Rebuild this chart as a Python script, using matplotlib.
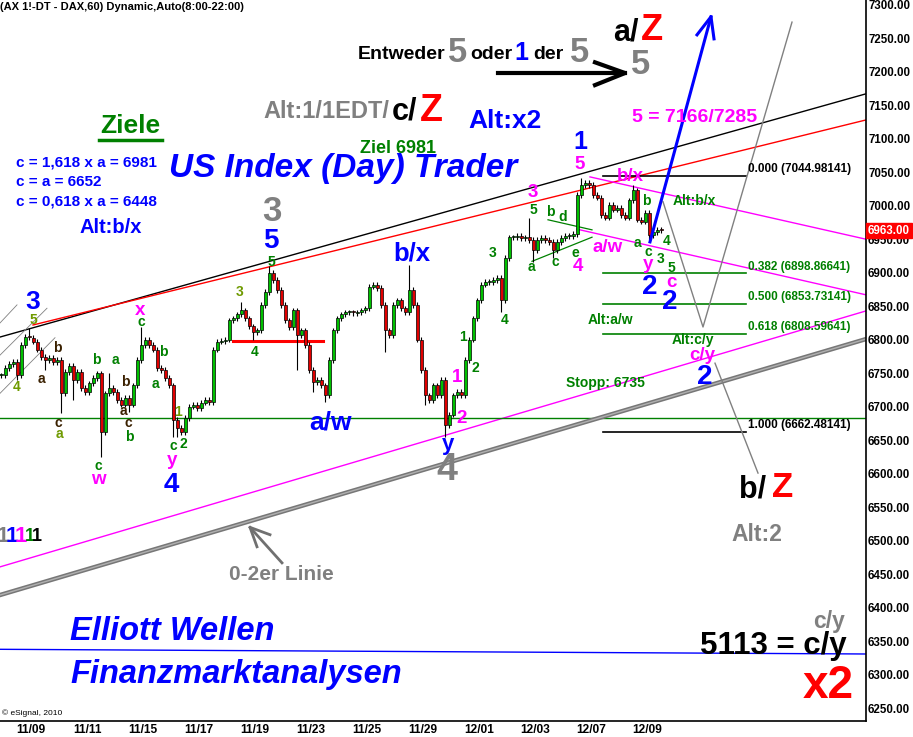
import matplotlib
matplotlib.use("Agg")
import matplotlib.pyplot as plt
import numpy as np

plt.rcParams['font.family'] = ['Liberation Sans', 'DejaVu Sans']

# DAX hourly chart, squeezed to 2h buckets (closes)
closes = [
    6747, 6758, 6764, 6767, 6747, 6792, 6804, 6803, 6797, 6785,
    6774, 6770, 6773, 6767, 6770, 6720, 6752, 6761, 6740, 6752,
    6728, 6722, 6735, 6743, 6750, 6662, 6720, 6728, 6722, 6710,
    6703, 6713, 6703, 6732, 6770, 6792, 6800, 6792, 6785, 6758,
    6755, 6743, 6732, 6680, 6668, 6662, 6683, 6700, 6703, 6698,
    6706, 6710, 6707, 6785, 6797, 6798, 6800, 6829, 6832, 6838,
    6844, 6832, 6820, 6811, 6814, 6852, 6871, 6900, 6889, 6874,
    6852, 6829, 6819, 6844, 6807, 6814, 6792, 6755, 6737, 6740,
    6732, 6717, 6770, 6814, 6832, 6838, 6841, 6841, 6840, 6841,
    6844, 6847, 6879, 6882, 6877, 6852, 6814, 6807, 6852, 6859,
    6847, 6841, 6874, 6852, 6800, 6755, 6717, 6710, 6732, 6717,
    6740, 6673, 6688, 6717, 6722, 6717, 6770, 6800, 6832, 6859,
    6882, 6886, 6886, 6889, 6892, 6859, 6922, 6953, 6953, 6955,
    6952, 6953, 6949, 6934, 6949, 6952, 6949, 6946, 6934, 6946,
    6952, 6955, 6955, 6958, 7016, 7031, 7034, 7031, 7016, 7012,
    6986, 6982, 7001, 6994, 6997, 6986, 6982, 7008, 7023, 6979,
    6976, 6989, 6956, 6961, 6964, 6963,
]
# long wicks
spike_high = {7: 6817, 27: 6750, 35: 6819, 60: 6856, 67: 6910, 102: 6912,
              132: 6982, 145: 7041, 158: 7031}
spike_low = {4: 6740, 11: 6755, 15: 6691, 18: 6710, 25: 6625, 32: 6692,
             43: 6655, 44: 6655, 63: 6800, 74: 6755, 78: 6722, 81: 6707,
             96: 6782, 106: 6703, 111: 6655, 125: 6841, 133: 6916,
             138: 6922, 162: 6949}

day_labels = ["11/09", "11/11", "11/15", "11/17", "11/19", "11/23",
              "11/25", "11/29", "12/01", "12/03", "12/07", "12/09"]
last_price = 6963.00

fib_ratios = [0.000, 0.382, 0.500, 0.618, 1.000]
fib_prices = [7044.98141, 6898.86641, 6853.73141, 6808.59641, 6662.48141]
fib_colors = ["black", "#008000", "#008000", "#008000", "black"]

BLUE, MAG, GRAY, RED = "#0000ff", "#ff00ff", "#808080", "#ff0000"
GREEN, OLIVE, DARK = "#008000", "#6f9a00", "#3a2000"

fig = plt.figure(figsize=(9.13, 7.37), dpi=100)
ax = fig.add_axes([0, 16 / 737, 866 / 913, 721 / 737])
ax.set_xlim(-0.25, 216.25)
ax.set_ylim(6231, 7307)

# --- candles ---
c = np.array(closes, dtype=float)
o = np.r_[c[0], c[:-1]]
k = np.arange(len(c))
hi = np.maximum(o, c) + 4
lo = np.minimum(o, c) - 4
for i, v in spike_high.items():
    hi[i] = v
for i, v in spike_low.items():
    lo[i] = v
ax.vlines(k, lo, hi, color="black", lw=0.8, zorder=3)
body = np.where(np.abs(c - o) < 1.5, 1.5, c - o)
cols = np.where(c >= o, "#00c000", "#e00000")
ax.bar(k, body, bottom=o, width=0.75, color=cols, edgecolor="black",
       linewidth=0.5, zorder=4)

# --- trend lines / channels ---
lines = [
    ((-0.25, 6804), (216.25, 7167), "black", 1.0),
    ((8, 6822), (216.25, 7128), "#ff0000", 1.0),
    ((147.25, 7043), (216.25, 6950), MAG, 1.0),
    ((144, 6965), (216.25, 6867), MAG, 1.0),
    ((-0.25, 6461), (216.25, 6843), MAG, 1.0),
    ((-0.25, 6683), (216.25, 6683), GREEN, 1.0),
    ((58, 6798), (80.5, 6798), "#ff0000", 2.2),
    ((136.75, 6979), (147.75, 6964), GREEN, 0.9),
    ((132.75, 6917), (147.75, 6953), GREEN, 0.9),
    ((-0.25, 6338), (216.25, 6331), BLUE, 1.0),
    ((-0.25, 6825), (4, 6852), GRAY, 0.6),
    ((-0.25, 6777), (11.5, 6847), GRAY, 0.6),
    ((-0.25, 6720), (13.5, 6803), GRAY, 0.6),
]
for (x1, y1), (x2, y2), col, lw in lines:
    ax.plot([x1, x2], [y1, y2], color=col, lw=lw, zorder=2)

# 0-2 line (double gray)
ax.plot([-0.25, 216.25], [6419, 6801], color="#777777", lw=3.2, zorder=2)
ax.plot([-0.25, 216.25], [6419, 6801], color="#b0b0b0", lw=1.0, zorder=2)

# fib retracement
for r, p, col in zip(fib_ratios, fib_prices, fib_colors):
    ax.plot([150.5, 186.25], [p, p], color=col, lw=1.2, zorder=2)
    ax.text(186.75, p + 1, f"{r:.3f} ({p:.5f})", color=col, fontsize=8.5,
            fontweight="bold", ha="left", va="bottom")

# projection paths
ax.plot([162.25, 177.5], [6946, 7282], color=BLUE, lw=2.2, zorder=5)
ax.plot([174, 177.5, 178.25], [7255, 7282, 7249], color=BLUE, lw=2.2, zorder=5)
ax.plot([165.5, 175.5, 197.75], [7006, 6819, 7274], color=GRAY, lw=1.0)
ax.plot([178.5, 189.25], [6765, 6601], color=GRAY, lw=1.0)
ax.plot([124.25, 156], [7198, 7198], color="black", lw=3)
ax.plot([148.5, 156, 148.5], [7214, 7198, 7180], color="black", lw=3)
ax.plot([70.25, 62.25], [6467, 6520], color="#707070", lw=2)
ax.plot([64, 62.25, 67.25], [6491, 6520, 6509], color="#707070", lw=2)


def t(x, y, s, col, size, **kw):
    kw.setdefault("ha", "center")
    kw.setdefault("va", "center")
    ax.text(x, y, s, color=col, fontsize=size, fontweight="bold", zorder=6, **kw)


# small wave counts
small = [
    (8, 6829, "5", OLIVE), (4, 6729, "4", OLIVE), (10, 6741, "a", DARK),
    (14, 6788, "b", DARK), (14.25, 6675, "c", DARK), (14.5, 6659, "a", OLIVE),
    (23.75, 6770, "b", GREEN), (28.5, 6770, "a", GREEN), (31, 6737, "b", DARK),
    (30.5, 6693, "a", DARK), (31.75, 6675, "c", DARK), (32, 6655, "b", GREEN),
    (35, 6826, "c", GREEN), (40.5, 6782, "b", GREEN), (38.5, 6734, "a", GREEN),
    (44.25, 6692, "1", OLIVE), (43, 6641, "c", GREEN), (45.5, 6644, "2", GREEN),
    (24.25, 6611, "c", GREEN), (67.5, 6916, "5", GREEN), (59.75, 6871, "3", OLIVE),
    (63.5, 6782, "4", GREEN), (115.5, 6804, "1", GREEN), (118.5, 6758, "2", GREEN),
    (123, 6929, "3", GREEN), (126, 6829, "4", GREEN), (133, 6994, "5", GREEN),
    (137.25, 6991, "b", GREEN), (140.5, 6983, "d", GREEN), (132.5, 6909, "a", GREEN),
    (138.5, 6916, "c", GREEN), (143.5, 6929, "e", GREEN), (161.25, 7007, "b", GREEN),
    (159, 6944, "a", GREEN), (161.75, 6931, "c", GREEN), (166.5, 6947, "4", GREEN),
    (165, 6920, "3", GREEN), (167.5, 6907, "5", GREEN),
]
for x, y, s, col in small:
    t(x, y, s, col, 10)

magenta = [
    (34.75, 6843, "x"), (24.25, 6591, "w"), (42.75, 6620, "y"), (114, 6743, "1"),
    (115.25, 6683, "2"), (133, 7020, "3"), (144.75, 7061, "5"), (144.25, 6909, "4"),
    (151.75, 6938, "a/w"), (157.25, 7043, "b/x"), (161.75, 6912, "y"),
    (167.5, 6885, "c"), (175.25, 6777, "c/y"),
]
for x, y, s in magenta:
    t(x, y, s, MAG, 13.5)

big_blue = [
    (8, 6856, "3", 19), (42.5, 6583, "4", 20), (67.5, 6947, "5", 20),
    (82.25, 6677, "a/w", 19), (102.75, 6929, "b/x", 18.5), (111.75, 6643, "y", 16),
    (144.75, 7095, "1", 18), (162.25, 6879, "2", 20), (167.25, 6856, "2", 20),
    (176, 6744, "2", 20),
]
for x, y, s, sz in big_blue:
    t(x, y, s, BLUE, sz)

t(67.75, 6991, "3", GRAY, 25)
t(111.5, 6606, "4", GRAY, 27)

for x, y, s in [(173.25, 7007, "Alt:b/x"), (152.25, 6829, "Alt:a/w"),
                (173, 6800, "Alt:c/y"), (151, 6735, "Stopp: 6735")]:
    t(x, y, s, GREEN, 10)

# headline texts
t(-0.25, 7297, "(AX 1!-DT - DAX,60) Dynamic,Auto(8:00-22:00)", "black", 8, ha="left")
t(89.25, 7225, "Entweder", "black", 14, ha="left")
t(114.25, 7229, "5", GRAY, 25)
t(117.25, 7225, "oder", "black", 14, ha="left")
t(130, 7228, "1", BLUE, 18)
t(133, 7225, "der", "black", 14, ha="left")
t(144.75, 7229, "5", GRAY, 25)
t(160, 7210, "5", GRAY, 25)
t(156.25, 7259, "a/", "black", 22)
t(162.75, 7262, "Z", RED, 26)
t(65.5, 7140, "Alt:1/1EDT/", GRAY, 17, ha="left")
t(97.75, 7140, "c/", "black", 22, ha="left")
t(107.5, 7141, "Z", RED, 27)
t(126, 7126, "Alt:x2", BLUE, 19)
t(32.25, 7119, "Ziele", GREEN, 19)
ax.plot([24.5, 40.25], [7098, 7098], color=GREEN, lw=2.5)
t(3.75, 7064, "c = 1,618 x a = 6981", BLUE, 11, ha="left")
t(3.75, 7035, "c = a = 6652", BLUE, 11, ha="left")
t(3.75, 7007, "c = 0,618 x a = 6448", BLUE, 11, ha="left")
t(27.5, 6967, "Alt:b/x", BLUE, 14.5)
t(99.25, 7086, "Ziel 6981", GREEN, 13)
t(85.5, 7055, "US Index (Day) Trader", BLUE, 24, style="italic")
t(173.5, 7131, "5 = 7166/7285", MAG, 14)

t(188, 6576, "b/", "black", 22)
t(195.5, 6579, "Z", RED, 25)
t(189, 6510, "Alt:2", GRAY, 16.5)
t(70, 6449, "0-2er Linie", GRAY, 15)
t(207, 6380, "c/y", GRAY, 16.5)
t(211.5, 6343, "5113 = c/y", "black", 22.5, ha="right")
t(206.75, 6283, "x2", RED, 33)
t(17.25, 6364, "Elliott Wellen", BLUE, 23.5, ha="left", style="italic")
t(17.25, 6301, "Finanzmarktanalysen", BLUE, 23.5, ha="left", style="italic")
ax.text(0.25, 6243, "\u00a9 eSignal, 2010", fontsize=6, ha="left", va="center")

# the coloured "1"s at the left edge
for x, col, sz in [(0.4, GRAY, 16), (2.7, BLUE, 16), (5.0, MAG, 16),
                   (7.2, GREEN, 13), (9.0, "black", 13)]:
    t(x, 6506, "1", col, sz)

# --- axes styling ---
for side in ["top", "left"]:
    ax.spines[side].set_visible(False)
ax.spines["right"].set_linewidth(1.2)
ax.spines["bottom"].set_linewidth(1.2)
ax.yaxis.tick_right()
yt = np.arange(6250, 7301, 50)
ax.set_yticks(yt)
ax.set_yticklabels([f"{v:.2f}" for v in yt], fontsize=8.3, fontweight="bold")
ax.tick_params(axis="y", length=0, pad=1.5)
ax.set_xticks(7.5 + 14 * np.arange(len(day_labels)))
ax.set_xticklabels(day_labels, fontsize=8.6, fontweight="bold")
ax.tick_params(axis="x", length=0, pad=2)

ax.annotate(f"{last_price:.2f}", xy=(1.0, last_price), xycoords=("axes fraction", "data"),
            xytext=(1.5, 0), textcoords="offset points", ha="left", va="center",
            color="white", fontsize=8.3, fontweight="bold", zorder=7,
            bbox=dict(boxstyle="square,pad=0.15", fc="#ff0000", ec="#ff0000"))

fig.savefig("out.png", dpi=100)
